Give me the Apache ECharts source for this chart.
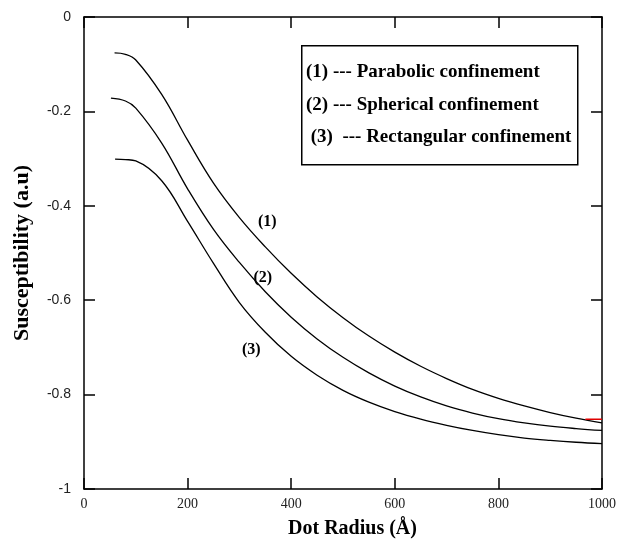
<!DOCTYPE html>
<html>
<head>
<meta charset="utf-8">
<script src="https://cdn.jsdelivr.net/npm/echarts@6/dist/echarts.min.js"></script>
<style>
  html, body { margin: 0; padding: 0; background: #fff; }
  #main { width: 619px; height: 544px; }
</style>
</head>
<body>
<div id="main"></div>
<script>
// dot radius (Angstrom); each curve starts at its own radius, then shares these
const startRadius = [59, 52, 60];
const radius = [80, 100, 150, 200, 250, 300, 350, 400, 450, 500, 550, 600, 650, 700, 750, 800, 850, 900, 950, 1000];

// susceptibility (a.u), first value belongs to startRadius
const parabolic = [-0.076, -0.079, -0.091, -0.164, -0.261, -0.352, -0.425, -0.487, -0.543, -0.593, -0.637, -0.676, -0.710, -0.740, -0.766, -0.789, -0.808, -0.824, -0.838, -0.850, -0.860];
const spherical = [-0.172, -0.178, -0.193, -0.267, -0.364, -0.450, -0.520, -0.582, -0.636, -0.682, -0.721, -0.754, -0.782, -0.805, -0.824, -0.839, -0.851, -0.860, -0.867, -0.872, -0.876];
const rectangular = [-0.301, -0.302, -0.305, -0.347, -0.433, -0.522, -0.605, -0.668, -0.719, -0.759, -0.791, -0.816, -0.836, -0.852, -0.865, -0.876, -0.885, -0.892, -0.897, -0.901, -0.904];

// curve tags placed inside the plot
const tagText = ["(1)", "(2)", "(3)"];
const tagRadius = [354, 345, 323];
const tagValue = [-0.435, -0.553, -0.705];

// small red mark at the right edge
const redMarkRadius = [968, 1000];
const redMarkValue = [-0.852, -0.852];

const legendLines = [
  "(1) --- Parabolic confinement",
  "(2) --- Spherical confinement",
  " (3)  --- Rectangular confinement",
];

const xTicks = { min: 0, max: 1000, interval: 200 };
const yTicks = { min: -1, max: 0, interval: 0.2 };

function pairs(start, vals) {
  const out = [[start, vals[0]]];
  radius.forEach((r, i) => out.push([r, vals[i + 1]]));
  return out;
}

const chart = echarts.init(document.getElementById("main"));

const curveStyle = { color: "#000", width: 1.3 };
const serif = "'Liberation Serif', 'Times New Roman', serif";

const frameAxis = {
  axisLine: { show: true, onZero: false, lineStyle: { color: "#000", width: 1.5 } },
  axisTick: { show: true, inside: true, length: 11, lineStyle: { color: "#000", width: 1.5 } },
  splitLine: { show: false },
};

let option = {
  animation: false,
  backgroundColor: "#fff",
  grid: { left: 84, right: 16, top: 17, bottom: 52 },
  xAxis: [
    Object.assign({
      type: "value",
      min: xTicks.min,
      max: xTicks.max,
      interval: xTicks.interval,
      position: "bottom",
      name: "Dot Radius (Å)",
      nameLocation: "middle",
      nameGap: 30,
      nameTextStyle: { fontFamily: serif, fontWeight: "bold", fontSize: 20, color: "#000", padding: [0, 0, 0, 19] },
      axisLabel: { fontFamily: serif, fontSize: 14, color: "#222", margin: 8, formatter: (v) => String(v) },
    }, frameAxis),
    Object.assign({
      type: "value",
      min: xTicks.min,
      max: xTicks.max,
      interval: xTicks.interval,
      position: "top",
      axisLabel: { show: false },
    }, frameAxis),
  ],
  yAxis: [
    Object.assign({
      type: "value",
      min: yTicks.min,
      max: yTicks.max,
      interval: yTicks.interval,
      position: "left",
      name: "Susceptibility (a.u)",
      nameLocation: "middle",
      nameGap: 51,
      nameTextStyle: { fontFamily: serif, fontWeight: "bold", fontSize: 22, color: "#000" },
      axisLabel: { fontFamily: "'Liberation Sans', Arial, sans-serif", fontSize: 14, color: "#222", margin: 13 },
    }, frameAxis),
    Object.assign({
      type: "value",
      min: yTicks.min,
      max: yTicks.max,
      interval: yTicks.interval,
      position: "right",
      axisLabel: { show: false },
    }, frameAxis),
  ],
  series: [
    { name: "Parabolic", type: "line", data: pairs(startRadius[0], parabolic), smooth: 0.4, showSymbol: false, lineStyle: curveStyle },
    { name: "Spherical", type: "line", data: pairs(startRadius[1], spherical), smooth: 0.4, showSymbol: false, lineStyle: curveStyle },
    { name: "Rectangular", type: "line", data: pairs(startRadius[2], rectangular), smooth: 0.4, showSymbol: false, lineStyle: curveStyle },
    {
      name: "mark",
      type: "line",
      data: redMarkRadius.map((r, i) => [r, redMarkValue[i]]),
      showSymbol: false,
      lineStyle: { color: "#e00000", width: 1.5 },
    },
    {
      name: "tags",
      type: "scatter",
      symbolSize: 0,
      itemStyle: { color: "#000", opacity: 1 },
      data: tagText.map((t, i) => [tagRadius[i], tagValue[i], t]),
      label: {
        show: true,
        position: "inside",
        formatter: (p) => p.value[2],
        fontFamily: serif,
        fontWeight: "bold",
        fontSize: 16,
        color: "#000",
        opacity: 1,
        textBorderWidth: 0,
      },
    },
  ],
  graphic: [
    {
      type: "rect",
      left: 301,
      top: 45,
      shape: { width: 276, height: 119 },
      style: { fill: "#fff", stroke: "#000", lineWidth: 1.5 },
    },
  ].concat(legendLines.map((t, i) => ({
    type: "text",
    left: 306,
    top: 63 + i * 32.5,
    style: { text: t, fontFamily: serif, fontWeight: "bold", fontSize: 19, fill: "#000" },
  }))),
};

chart.setOption(option);
</script>
</body>
</html>
